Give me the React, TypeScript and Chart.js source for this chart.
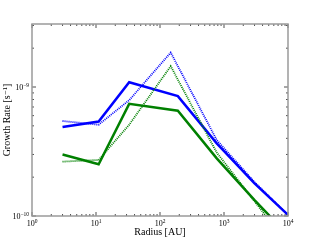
import React, { useEffect, useRef } from "react";
import { Chart, registerables } from "chart.js";

Chart.register(...registerables);

const radiusSolid = [3, 11, 33, 190, 770, 3000, 10000];
const radiusDotted = [3, 11, 33, 147, 770, 3000, 10000];
const blueSolid = [4.9e-10, 5.4e-10, 1.09e-9, 8.5e-10, 3.66e-10, 1.79e-10, 1.02e-10];
const blueDotted = [5.45e-10, 5.1e-10, 7.9e-10, 1.85e-9, 3.88e-10, 1.83e-10, 1.02e-10];
const greenSolid = [3.0e-10, 2.52e-10, 7.4e-10, 6.55e-10, 2.8e-10, 1.33e-10, 7.1e-11];
const greenDotted = [2.64e-10, 2.72e-10, 5.1e-10, 1.45e-9, 3.1e-10, 1.3e-10, 6.0e-11];
const xMajorTicks = [1, 10, 100, 1000, 10000];
const yMajorTicks = [1e-10, 1e-9];
const xTitle = "Radius [AU]";
const yTitle = "Growth Rate [s\u207B\u00B9]";

const FONT = "'Liberation Serif', 'DejaVu Serif', serif";

function pts(xs: number[], ys: number[]) {
  return xs.map((x, i) => ({ x, y: ys[i] }));
}

function drawPow(ctx: CanvasRenderingContext2D, exp: string, x: number, y: number, align: "center" | "right") {
  ctx.font = `8px ${FONT}`;
  const wb = ctx.measureText("10").width;
  ctx.font = `5.5px ${FONT}`;
  const we = ctx.measureText(exp).width;
  const total = wb + we;
  const left = align === "center" ? x - total / 2 : x - total;
  ctx.textAlign = "left";
  ctx.textBaseline = "alphabetic";
  ctx.font = `8px ${FONT}`;
  ctx.fillText("10", left, y);
  ctx.font = `5.5px ${FONT}`;
  ctx.fillText(exp, left + wb, y - 3.5);
}

function minorValues(min: number, max: number) {
  const out: number[] = [];
  const lo = Math.floor(Math.log10(min));
  const hi = Math.ceil(Math.log10(max));
  for (let e = lo; e <= hi; e++) {
    for (let m = 2; m <= 9; m++) {
      const v = m * Math.pow(10, e);
      if (v > min * 1.0001 && v < max * 0.9999) out.push(v);
    }
  }
  return out;
}

const framePlugin = {
  id: "frame",
  afterDraw(chart: any) {
    const { ctx, chartArea: a, scales } = chart;
    const xs = scales.x;
    const ys = scales.y;
    ctx.save();
    ctx.strokeStyle = "#222";
    ctx.lineWidth = 0.8;
    // x ticks
    const drawX = (v: number, len: number) => {
      const px = xs.getPixelForValue(v);
      ctx.beginPath();
      ctx.moveTo(px, a.bottom);
      ctx.lineTo(px, a.bottom - len);
      ctx.moveTo(px, a.top);
      ctx.lineTo(px, a.top + len);
      ctx.stroke();
    };
    const drawY = (v: number, len: number) => {
      const py = ys.getPixelForValue(v);
      ctx.beginPath();
      ctx.moveTo(a.left, py);
      ctx.lineTo(a.left + len, py);
      ctx.moveTo(a.right, py);
      ctx.lineTo(a.right - len, py);
      ctx.stroke();
    };
    xMajorTicks.forEach((v) => drawX(v, 4));
    minorValues(xs.min, xs.max).forEach((v) => drawX(v, 2));
    yMajorTicks.forEach((v) => drawY(v, 4));
    minorValues(ys.min, ys.max).forEach((v) => drawY(v, 2));
    // frame
    ctx.strokeStyle = "#9a9a9a";
    ctx.lineWidth = 1.5;
    ctx.strokeRect(a.left, a.top, a.right - a.left, a.bottom - a.top);
    // labels
    ctx.fillStyle = "#000";
    xMajorTicks.forEach((v) => {
      const px = xs.getPixelForValue(v);
      drawPow(ctx, String(Math.round(Math.log10(v))), px, a.bottom + 10, "center");
    });
    yMajorTicks.forEach((v) => {
      const py = ys.getPixelForValue(v);
      drawPow(ctx, "\u2212" + String(-Math.round(Math.log10(v))), a.left - 3, py + 3, "right");
    });
    ctx.font = `10px ${FONT}`;
    ctx.textAlign = "center";
    ctx.textBaseline = "middle";
    ctx.fillText(xTitle, (a.left + a.right) / 2, 232);
    ctx.translate(7, (a.top + a.bottom) / 2);
    ctx.rotate(-Math.PI / 2);
    ctx.fillText(yTitle, 0, 0);
    ctx.restore();
  },
};

export default function App() {
  const ref = useRef<HTMLCanvasElement>(null);
  useEffect(() => {
    document.body.style.margin = "0";
    const chart = new Chart(ref.current!, {
      type: "line",
      data: {
        datasets: [
          { data: pts(radiusDotted, blueDotted), borderColor: "#0000ff", borderWidth: 1.8, borderDash: [1, 1], pointRadius: 0, clip: 0 } as any,
          { data: pts(radiusDotted, greenDotted), borderColor: "#008000", borderWidth: 1.8, borderDash: [1, 1], pointRadius: 0, clip: 0 } as any,
          { data: pts(radiusSolid, blueSolid), borderColor: "#0000ff", borderWidth: 2.5, pointRadius: 0, clip: 0 } as any,
          { data: pts(radiusSolid, greenSolid), borderColor: "#008000", borderWidth: 2.5, pointRadius: 0, clip: 0 } as any,
        ],
      },
      options: {
        animation: false,
        responsive: false,
        maintainAspectRatio: false,
        layout: { padding: { top: 24, right: 32, left: 0, bottom: 0 } },
        plugins: { legend: { display: false }, tooltip: { enabled: false } },
        elements: { line: { tension: 0 } },
        scales: {
          x: {
            type: "logarithmic",
            min: 1,
            max: 10000,
            grid: { display: false },
            border: { display: false },
            ticks: { display: false },
            afterFit: (s: any) => { s.height = 24; },
          },
          y: {
            type: "logarithmic",
            min: 1e-10,
            max: 3.08e-9,
            grid: { display: false },
            border: { display: false },
            ticks: { display: false },
            afterFit: (s: any) => { s.width = 32; },
          },
        },
      },
      plugins: [framePlugin],
    });
    return () => chart.destroy();
  }, []);
  return <canvas ref={ref} width={320} height={240} style={{ display: "block" }} />;
}
